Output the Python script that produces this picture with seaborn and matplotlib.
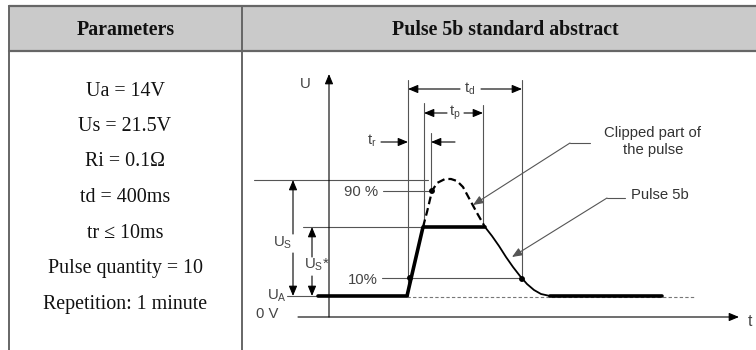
import matplotlib
matplotlib.use("Agg")
import matplotlib.pyplot as plt
import seaborn as sns
import pandas as pd
from matplotlib.patches import Rectangle

# ---------------- table text ----------------
header_left = "Parameters"
header_right = "Pulse 5b standard abstract"
parameters = ["Ua = 14V", "Us = 21.5V", "Ri = 0.1\u03a9", "td = 400ms",
              "tr \u2264 10ms", "Pulse quantity = 10", "Repetition: 1 minute"]

# ---------------- diagram (schematic units: time -> x, level -> y, y grows downward) ----------------
level_0v = 317
level_ua = 296
level_us_star = 227
level_peak = 180
level_90 = 191
level_10 = 278

# thick pulse outline (baseline, rise, flat top)
pulse_t = [318, 407, 423, 485]
pulse_u = [296, 296, 227, 227]
# decay of the clipped pulse
decay_t = [485, 492, 499, 506, 513, 520, 527, 534, 541, 550]
decay_u = [227, 236, 246, 257, 267, 276, 284, 290, 294, 296]
# final baseline
tail_t = [550, 662]
tail_u = [296, 296]
# clipped (dashed) part of the pulse
clip_t = [423, 427, 432, 437, 445, 451, 457, 463, 470, 477, 485]
clip_u = [227, 212, 191, 183, 179, 179, 181, 187, 200, 213, 227]
# marked points (10 % / 90 %)
mark_t = [432, 410, 522]
mark_u = [191, 278, 279]

sns.set_style("white")
plt.rcParams["font.family"] = ["Liberation Sans", "DejaVu Sans"]

fig = plt.figure(figsize=(7.56, 3.5), dpi=100)
ax = fig.add_axes([0, 0, 1, 1])
ax.set_xlim(0, 756)
ax.set_ylim(350, 0)
ax.axis("off")

# ---------------- table ----------------
border = "#666666"
ax.add_patch(Rectangle((9, 6), 760, 45, facecolor="#cacaca", edgecolor="none", zorder=0))
ax.plot([9, 756], [6, 6], color=border, lw=1.6)
ax.plot([9, 756], [51, 51], color=border, lw=1.6)
ax.plot([9, 9], [6, 350], color=border, lw=1.4)
ax.plot([242, 242], [6, 350], color=border, lw=1.4)

serif = ["Liberation Serif", "DejaVu Serif"]
ax.text(126, 30, header_left, ha="center", va="center", fontsize=14.3,
        fontweight="bold", family=serif, color="#111111")
ax.text(505, 30, header_right, ha="center", va="center", fontsize=14.3,
        fontweight="bold", family=serif, color="#111111")
for i, p in enumerate(parameters):
    ax.text(125, 91 + i * 35.5, p, ha="center", va="center", fontsize=14.4,
            family=serif, color="#111111")

# ---------------- diagram helpers ----------------
thin = "#555555"
txt = "#444444"
fs = 10.7


def arrow(x0, y0, x1, y1, color="black", lw=0.8):
    ax.annotate("", xy=(x1, y1), xytext=(x0, y0),
                arrowprops=dict(arrowstyle="-|>,head_length=0.6,head_width=0.25",
                                color=color, lw=lw, shrinkA=0, shrinkB=0))


def line(xs, ys, color=thin, lw=0.8, ls="-"):
    sns.lineplot(x=xs, y=ys, ax=ax, color=color, linewidth=lw, linestyle=ls,
                 sort=False, estimator=None)


# axes of the diagram
arrow(329, level_0v, 329, 74)
arrow(298, level_0v, 739, level_0v)
ax.text(305, 84, "U", ha="center", va="center", fontsize=fs, color=txt)
ax.text(750, 322, "t", ha="center", va="center", fontsize=fs + 0.5, color=txt)
ax.text(267, 314, "0 V", ha="center", va="center", fontsize=fs, color=txt)
ax.text(277, 296, r"$\mathregular{U_A}$", ha="center", va="center", fontsize=fs, color=txt)

# level lines
line([254, 428], [level_peak, level_peak])
line([383, 432], [level_90, level_90])
line([303, 423], [level_us_star, level_us_star])
line([382, 522], [level_10, level_10])
line([287, 318], [level_ua, level_ua])
line([407, 695], [level_ua + 1, level_ua + 1], color="#777777", lw=0.8, ls=(0, (3, 2)))

# vertical reference lines
line([408, 408], [80, level_ua])
line([522, 522], [80, 279])
line([424, 424], [103, level_us_star])
line([483, 483], [105, level_us_star])
line([431, 431], [133, level_90])

# time dimension arrows
arrow(460, 89, 408, 89)
arrow(481, 89, 522, 89)
ax.text(470, 89, r"$\mathregular{t_d}$", ha="center", va="center", fontsize=fs, color=txt)
arrow(447, 113, 424, 113)
arrow(464, 113, 483, 113)
ax.text(455, 113, r"$\mathregular{t_p}$", ha="center", va="center", fontsize=fs, color=txt)
arrow(381, 142, 408, 142)
arrow(455, 142, 431, 142)
ax.text(372, 141, r"$\mathregular{t_r}$", ha="center", va="center", fontsize=fs, color=txt)

# voltage dimension arrows
arrow(293, 234, 293, level_peak)
arrow(293, 253, 293, level_ua)
ax.text(283, 243, r"$\mathregular{U_S}$", ha="center", va="center", fontsize=fs, color=txt)
arrow(312, 257, 312, level_us_star)
arrow(312, 276, 312, level_ua)
ax.text(317, 265, r"$\mathregular{U_S}$*", ha="center", va="center", fontsize=fs, color=txt)

# percentage labels
ax.text(361, 192, "90 %", ha="center", va="center", fontsize=fs, color=txt)
ax.text(363, 280, "10%", ha="center", va="center", fontsize=fs, color=txt)

# pulse
line(clip_t, clip_u, color="black", lw=1.6, ls=(0, (3.5, 1.8)))
line(pulse_t, pulse_u, color="black", lw=2.6)
line(decay_t, decay_u, color="black", lw=1.3)
line(tail_t, tail_u, color="black", lw=2.6)
sns.scatterplot(x=mark_t, y=mark_u, ax=ax, color="black", s=18, edgecolor="none", zorder=5)

# annotations
line([590, 570], [143, 143])
arrow(570, 143, 473, 205, color=thin)
ax.text(653, 133, "Clipped part of", ha="center", va="center", fontsize=fs, color="#333333")
ax.text(653, 150, "the pulse", ha="center", va="center", fontsize=fs, color="#333333")
line([625, 607], [198, 198])
arrow(607, 198, 512, 257, color=thin)
ax.text(660, 195, "Pulse 5b", ha="center", va="center", fontsize=fs, color="#333333")

fig.savefig("out.png", dpi=100)
